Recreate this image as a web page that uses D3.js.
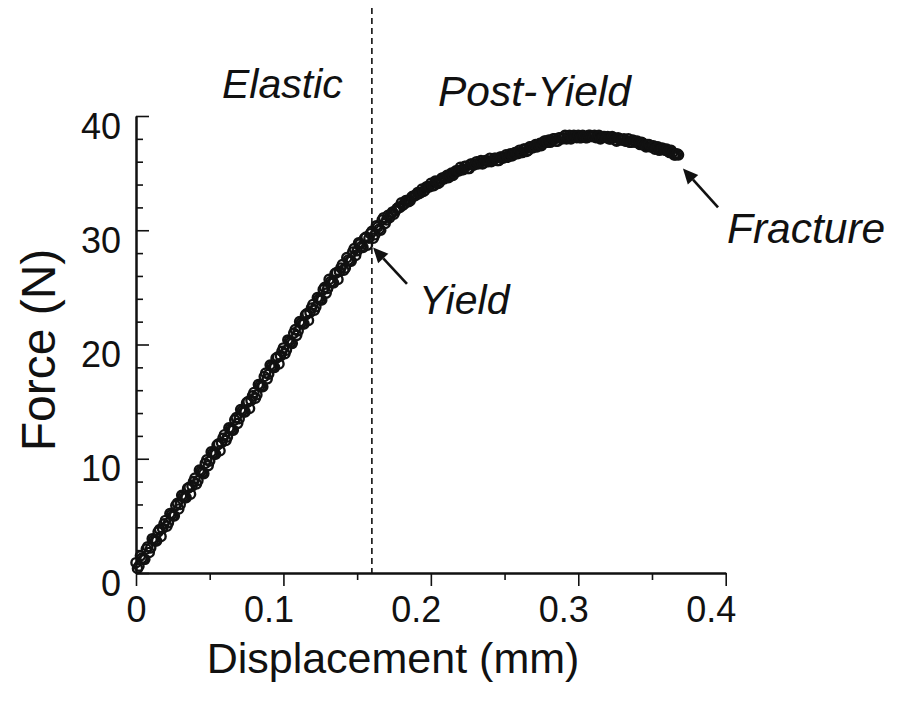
<!DOCTYPE html>
<html>
<head>
<meta charset="utf-8">
<script src="https://cdn.jsdelivr.net/npm/d3@7"></script>
<style>
  html, body { margin: 0; padding: 0; background: #ffffff; }
  svg { display: block; font-family: Arial, "Liberation Sans", Helvetica, sans-serif; }
</style>
</head>
<body>
<svg id="chart" width="903" height="702"></svg>
<script>
// Bending test record: force vs. displacement, sampled every 0.001 mm
const displacement = [
  0.000,0.001,0.002,0.003,0.004,0.005,0.006,0.007,0.008,0.009,
  0.010,0.011,0.012,0.013,0.014,0.015,0.016,0.017,0.018,0.019,
  0.020,0.021,0.022,0.023,0.024,0.025,0.026,0.027,0.028,0.029,
  0.030,0.031,0.032,0.033,0.034,0.035,0.036,0.037,0.038,0.039,
  0.040,0.041,0.042,0.043,0.044,0.045,0.046,0.047,0.048,0.049,
  0.050,0.051,0.052,0.053,0.054,0.055,0.056,0.057,0.058,0.059,
  0.060,0.061,0.062,0.063,0.064,0.065,0.066,0.067,0.068,0.069,
  0.070,0.071,0.072,0.073,0.074,0.075,0.076,0.077,0.078,0.079,
  0.080,0.081,0.082,0.083,0.084,0.085,0.086,0.087,0.088,0.089,
  0.090,0.091,0.092,0.093,0.094,0.095,0.096,0.097,0.098,0.099,
  0.100,0.101,0.102,0.103,0.104,0.105,0.106,0.107,0.108,0.109,
  0.110,0.111,0.112,0.113,0.114,0.115,0.116,0.117,0.118,0.119,
  0.120,0.121,0.122,0.123,0.124,0.125,0.126,0.127,0.128,0.129,
  0.130,0.131,0.132,0.133,0.134,0.135,0.136,0.137,0.138,0.139,
  0.140,0.141,0.142,0.143,0.144,0.145,0.146,0.147,0.148,0.149,
  0.150,0.151,0.152,0.153,0.154,0.155,0.156,0.157,0.158,0.159,
  0.160,0.161,0.162,0.163,0.164,0.165,0.166,0.167,0.168,0.169,
  0.170,0.171,0.172,0.173,0.174,0.175,0.176,0.177,0.178,0.179,
  0.180,0.181,0.182,0.183,0.184,0.185,0.186,0.187,0.188,0.189,
  0.190,0.191,0.192,0.193,0.194,0.195,0.196,0.197,0.198,0.199,
  0.200,0.201,0.202,0.203,0.204,0.205,0.206,0.207,0.208,0.209,
  0.210,0.211,0.212,0.213,0.214,0.215,0.216,0.217,0.218,0.219,
  0.220,0.221,0.222,0.223,0.224,0.225,0.226,0.227,0.228,0.229,
  0.230,0.231,0.232,0.233,0.234,0.235,0.236,0.237,0.238,0.239,
  0.240,0.241,0.242,0.243,0.244,0.245,0.246,0.247,0.248,0.249,
  0.250,0.251,0.252,0.253,0.254,0.255,0.256,0.257,0.258,0.259,
  0.260,0.261,0.262,0.263,0.264,0.265,0.266,0.267,0.268,0.269,
  0.270,0.271,0.272,0.273,0.274,0.275,0.276,0.277,0.278,0.279,
  0.280,0.281,0.282,0.283,0.284,0.285,0.286,0.287,0.288,0.289,
  0.290,0.291,0.292,0.293,0.294,0.295,0.296,0.297,0.298,0.299,
  0.300,0.301,0.302,0.303,0.304,0.305,0.306,0.307,0.308,0.309,
  0.310,0.311,0.312,0.313,0.314,0.315,0.316,0.317,0.318,0.319,
  0.320,0.321,0.322,0.323,0.324,0.325,0.326,0.327,0.328,0.329,
  0.330,0.331,0.332,0.333,0.334,0.335,0.336,0.337,0.338,0.339,
  0.340,0.341,0.342,0.343,0.344,0.345,0.346,0.347,0.348,0.349,
  0.350,0.351,0.352,0.353,0.354,0.355,0.356,0.357,0.358,0.359,
  0.360,0.361,0.362,0.363,0.364,0.365,0.366,0.367,0.368
];
const force = [
  0.9,0.4,0.6,1.5,1.3,1.2,1.2,2.1,2.3,1.8,
  2.2,3.0,2.9,2.8,2.8,3.6,3.8,3.2,3.9,4.3,
  4.6,4.1,4.4,5.2,5.1,5.0,5.0,5.9,6.1,5.6,
  6.0,6.8,6.7,6.6,6.6,7.4,7.5,6.9,7.6,8.0,
  8.3,7.8,8.1,9.0,8.9,8.8,8.7,9.6,9.9,9.4,
  9.8,10.6,10.5,10.4,10.4,11.2,11.3,10.7,11.4,11.8,
  12.1,11.6,11.9,12.7,12.6,12.5,12.5,13.4,13.6,13.1,
  13.5,14.3,14.2,14.1,14.1,14.9,15.0,14.4,15.1,15.5,
  15.8,15.3,15.6,16.5,16.4,16.3,16.3,17.2,17.5,17.0,
  17.4,18.2,18.1,18.0,18.0,18.8,18.9,18.3,19.0,19.4,
  19.7,19.2,19.5,20.4,20.3,20.2,20.1,21.0,21.3,20.8,
  21.2,22.0,21.9,21.8,21.8,22.6,22.7,22.1,22.8,23.2,
  23.5,23.0,23.3,24.1,24.0,23.9,23.9,24.8,25.0,24.5,
  24.9,25.7,25.5,25.4,25.4,26.2,26.3,25.7,26.4,26.7,
  27.0,26.5,26.7,27.6,27.4,27.3,27.3,28.1,28.4,27.8,
  28.2,28.9,28.8,28.6,28.5,29.3,29.4,28.7,29.3,29.7,
  29.9,29.3,29.6,30.4,30.3,30.1,30.0,30.9,31.1,30.6,
  30.9,31.3,31.1,31.4,31.6,31.4,31.7,31.9,32.0,32.0,
  32.4,32.2,32.3,32.6,32.6,32.5,32.6,32.9,33.0,33.0,
  33.1,33.3,33.2,33.3,33.6,33.4,33.5,33.8,33.8,33.8,
  34.1,33.9,33.9,34.3,34.2,34.1,34.2,34.5,34.6,34.5,
  34.6,34.8,34.6,34.8,35.0,34.8,35.0,35.2,35.2,35.2,
  35.5,35.3,35.3,35.6,35.6,35.4,35.4,35.8,35.8,35.7,
  35.8,36.0,35.8,35.9,36.1,35.8,35.9,36.1,36.1,36.0,
  36.3,36.0,36.1,36.3,36.3,36.1,36.1,36.4,36.4,36.3,
  36.4,36.6,36.4,36.5,36.7,36.5,36.6,36.8,36.8,36.7,
  37.0,36.8,36.8,37.1,37.1,36.9,37.0,37.3,37.3,37.2,
  37.3,37.5,37.3,37.5,37.6,37.4,37.6,37.8,37.8,37.7,
  37.9,37.7,37.8,38.0,38.0,37.8,37.8,38.1,38.1,38.0,
  38.1,38.3,38.0,38.1,38.3,38.0,38.1,38.3,38.2,38.1,
  38.3,38.1,38.1,38.3,38.2,38.1,38.1,38.3,38.3,38.2,
  38.2,38.3,38.1,38.2,38.3,38.0,38.1,38.2,38.2,38.1,
  38.2,38.0,38.0,38.2,38.1,37.9,37.8,38.1,38.0,37.9,
  37.9,38.0,37.8,37.8,38.0,37.7,37.7,37.9,37.8,37.7,
  37.8,37.6,37.5,37.7,37.6,37.4,37.3,37.5,37.5,37.3,
  37.3,37.4,37.1,37.2,37.3,37.0,37.1,37.2,37.1,37.0,
  37.1,36.9,36.8,37.0,36.8,36.6,36.6,36.7,36.6
];

const xTicks = [0, 0.1, 0.2, 0.3, 0.4];
const xMinorTicks = [0.05, 0.15, 0.25, 0.35];
const yTicks = [0, 10, 20, 30, 40];
const yMinorTicks = [2, 4, 6, 8, 12, 14, 16, 18, 22, 24, 26, 28, 32, 34, 36, 38];

const yieldDisplacement = 0.16;
const regionLabels = ["Elastic", "Post-Yield"];
const pointLabels = ["Yield", "Fracture"];
// arrow tip and tail in data units: [tipX, tipY, tailX, tailY]
const yieldArrow = [0.1608, 28.5, 0.1838, 25.3];
const fractureArrow = [0.371, 35.4, 0.3948, 32.0];

const svg = d3.select("#chart");
const ink = "#111111";

const x = d3.scaleLinear().domain([0, 0.4]).range([136, 725.7]);
const y = d3.scaleLinear().domain([0, 40]).range([573, 116]);

// x axis: ticks hang below the line
const xMinor = svg.append("g").attr("transform", `translate(0,${y(0)})`)
  .call(d3.axisBottom(x).tickValues(xMinorTicks).tickFormat("").tickSize(7).tickSizeOuter(0));
const xMajor = svg.append("g").attr("transform", `translate(0,${y(0)})`)
  .call(d3.axisBottom(x).tickValues(xTicks).tickFormat(d3.format("")).tickSize(13).tickSizeOuter(0));
xMajor.selectAll("text")
  .attr("text-anchor", "end").attr("x", 10).attr("y", 49).attr("dy", 0)
  .style("font-size", "36px").attr("fill", ink);

// y axis: ticks point into the plot
const yMinor = svg.append("g").attr("transform", `translate(${x(0)},0)`)
  .call(d3.axisLeft(y).tickValues(yMinorTicks).tickFormat("").tickSize(-7).tickSizeOuter(0));
const yMajor = svg.append("g").attr("transform", `translate(${x(0)},0)`)
  .call(d3.axisLeft(y).tickValues(yTicks).tickFormat(d3.format("d")).tickSize(-13).tickSizeOuter(0).tickPadding(15));
yMajor.selectAll("text")
  .attr("dy", 0).attr("y", 22)
  .style("font-size", "36px").attr("fill", ink);

[xMinor, xMajor, yMinor, yMajor].forEach(g => {
  g.select(".domain").attr("stroke", ink).attr("stroke-width", 2);
  g.selectAll(".tick line").attr("stroke", ink).attr("stroke-width", 1.6);
});

// yield divider
svg.append("line")
  .attr("x1", x(yieldDisplacement)).attr("x2", x(yieldDisplacement))
  .attr("y1", 8).attr("y2", y(0))
  .attr("stroke", ink).attr("stroke-width", 1.6).attr("stroke-dasharray", "6,4");

// measured points: open circles, densely overlapping
const pts = displacement.map((d, i) => ({ d, f: force[i] }));
svg.append("g").selectAll("circle").data(pts).join("circle")
  .attr("cx", p => x(p.d)).attr("cy", p => y(p.f)).attr("r", 4.6)
  .attr("fill", "none").attr("stroke", ink).attr("stroke-width", 2.4);

// axis titles
svg.append("text").attr("x", 393).attr("y", 673).attr("text-anchor", "middle")
  .style("font-size", "43px").attr("fill", ink).text("Displacement (mm)");
svg.append("text").attr("transform", "translate(55,350) rotate(-90)").attr("text-anchor", "middle")
  .style("font-size", "48px").attr("fill", ink).text("Force (N)");

// annotations
const italic = (tx, ty, s, fs) => svg.append("text").attr("x", tx).attr("y", ty)
  .style("font-size", fs + "px").style("font-style", "italic").attr("fill", ink).text(s);
italic(222, 98, regionLabels[0], 41);
italic(438, 106, regionLabels[1], 42.5);
italic(419, 314, pointLabels[0], 41);
italic(727, 243, pointLabels[1], 42.5);

function arrow(a) {
  const tx = x(a[0]), ty = y(a[1]), bx = x(a[2]), by = y(a[3]);
  const ang = Math.atan2(ty - by, tx - bx);
  const L = 15, W = 7;
  const hx = tx - L * Math.cos(ang), hy = ty - L * Math.sin(ang);
  svg.append("line").attr("x1", bx).attr("y1", by).attr("x2", hx).attr("y2", hy)
    .attr("stroke", ink).attr("stroke-width", 2.6);
  const px = -Math.sin(ang) * W, py = Math.cos(ang) * W;
  svg.append("path")
    .attr("d", `M${tx},${ty}L${hx + px},${hy + py}L${hx - px},${hy - py}Z`)
    .attr("fill", ink);
}
arrow(yieldArrow);
arrow(fractureArrow);
</script>
</body>
</html>
